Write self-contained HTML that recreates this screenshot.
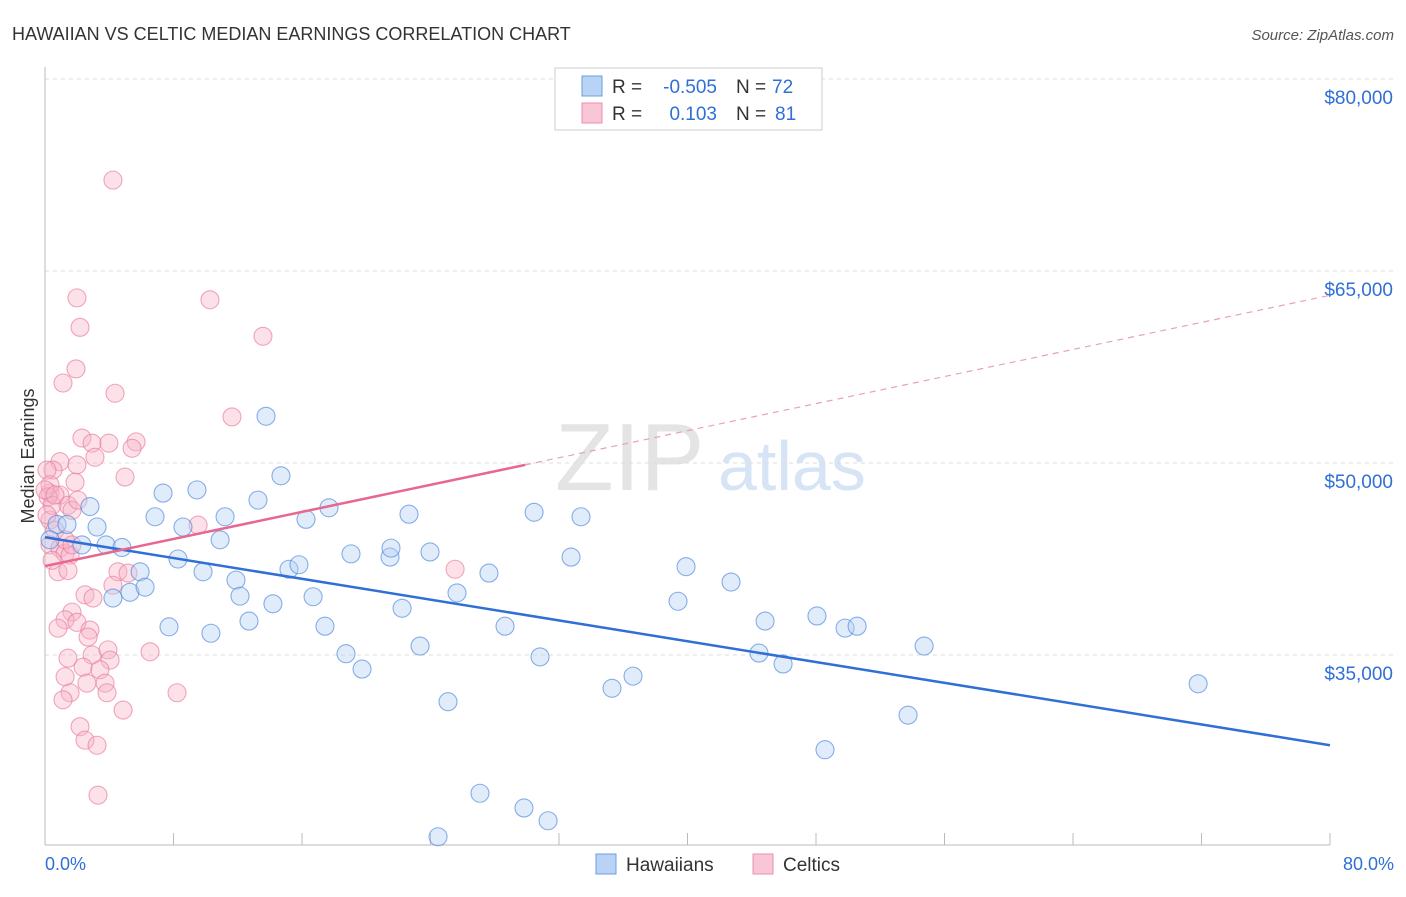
<!DOCTYPE html>
<html><head><meta charset="utf-8"><style>
body{margin:0;background:#fff;font-family:"Liberation Sans",sans-serif}
svg text{font-family:"Liberation Sans",sans-serif}
</style></head><body>
<svg id="c" width="1406" height="892">
<text x="12" y="40" font-size="18" fill="#333">HAWAIIAN VS CELTIC MEDIAN EARNINGS CORRELATION CHART</text>
<text x="1394" y="40" font-size="15" fill="#555" text-anchor="end" font-style="italic">Source: ZipAtlas.com</text>
<text x="34" y="456" font-size="18" fill="#333" text-anchor="middle" transform="rotate(-90 34 456)">Median Earnings</text>
<text x="555" y="490" font-size="96" fill="#e4e4e4" font-family="Liberation Serif">ZIP</text>
<text x="718" y="490" font-size="70" fill="#d6e4f6">atlas</text>
<g id="grid"></g><g id="axes"></g><g id="pts"></g><g id="lines"></g>
<g>
<rect x="555" y="68" width="267" height="62" fill="#fff" stroke="#ccc"/>
<rect x="582" y="76" width="20" height="20" fill="#b9d3f5" stroke="#6d9de0"/>
<rect x="582" y="103" width="20" height="20" fill="#f9c6d5" stroke="#ec8fae"/>
<text x="612" y="93" font-size="19" fill="#333">R =</text>
<text x="717" y="93" font-size="19" fill="#2f6fd6" text-anchor="end">-0.505</text>
<text x="736" y="93" font-size="19" fill="#333">N =</text>
<text x="772" y="93" font-size="19" fill="#2f6fd6">72</text>
<text x="612" y="120" font-size="19" fill="#333">R =</text>
<text x="717" y="120" font-size="19" fill="#2f6fd6" text-anchor="end">0.103</text>
<text x="736" y="120" font-size="19" fill="#333">N =</text>
<text x="775" y="120" font-size="19" fill="#2f6fd6">81</text>
</g>
<g>
<rect x="596" y="854" width="20" height="20" fill="#b9d3f5" stroke="#6d9de0"/>
<text x="626" y="871" font-size="19" fill="#333">Hawaiians</text>
<rect x="753" y="854" width="20" height="20" fill="#f9c6d5" stroke="#ec8fae"/>
<text x="783" y="871" font-size="19" fill="#333">Celtics</text>
</g>
<text x="45" y="870" font-size="18" fill="#2f6fd6">0.0%</text>
<text x="1394" y="870" font-size="18" fill="#2f6fd6" text-anchor="end">80.0%</text>
</svg>
<script>
const yTicks=[80000,65000,50000,35000];
const yTickLabels=["$80,000","$65,000","$50,000","$35,000"];
const blueX=[0.75,1.37,2.80,3.24,2.30,3.80,4.79,4.23,5.29,5.92,6.23,6.85,7.35,7.72,8.28,8.59,9.46,9.84,10.33,10.90,11.21,11.89,12.14,12.70,13.26,13.76,14.19,14.69,15.19,15.81,16.25,16.69,17.43,17.68,18.74,19.05,19.74,21.48,21.54,22.23,22.66,23.35,23.97,25.09,25.65,27.08,27.64,28.64,29.82,30.45,30.82,31.32,32.75,33.37,35.30,36.61,39.41,39.91,42.71,44.45,44.83,45.95,48.06,48.56,49.81,50.56,53.73,54.73,71.79,24.47,0.31];
const blueY=[45200,45200,46600,45000,43600,43600,43400,39450,39900,41500,40300,45800,47650,37200,42500,45000,47900,41500,36700,44000,45800,40850,39600,37650,47100,53650,39000,49000,41700,42050,45600,39550,37250,46500,35100,42900,33900,42650,43350,38650,46000,35700,43050,31350,39850,24200,41400,37250,23050,46150,34850,22050,42650,45800,32400,33350,39200,41900,40700,35150,37650,34300,38050,27600,37100,37250,30300,35700,32750,20800,44000];
const pinkX=[4.23,1.99,10.27,2.18,13.57,1.93,1.12,4.36,11.64,2.30,2.93,3.98,5.67,5.42,3.11,0.93,0.50,1.99,4.98,1.87,0.31,0.93,1.43,1.68,9.53,0.31,4.54,5.17,4.23,2.49,2.99,1.68,1.25,1.99,2.80,0.81,2.68,6.54,1.43,2.93,3.92,4.05,2.37,1.25,3.42,2.61,3.74,1.56,1.12,3.86,8.22,4.86,2.18,2.49,3.24,3.30,25.53,0.12,0.31,0.19,0.44,0.12,0.62,0.31,0.93,1.25,1.56,0.81,1.43,0.44,1.25,1.68,0,0.62,2.05];
const pinkY=[72100,62900,62750,60600,59900,57350,56250,55450,53600,51950,51550,51550,51650,51150,50450,50100,49450,49850,48900,48500,47650,47500,46700,46300,45150,45550,41500,41400,40450,39700,39450,38350,37750,37550,36950,37100,36400,35250,34750,35000,35400,34600,34050,33300,33850,32800,32800,32050,31500,32050,32050,30700,29400,28350,27950,24050,41700,49450,48300,47350,46700,45950,44750,43600,43350,42950,42800,41500,41600,42400,44000,43600,47900,47500,47100];
const blueTrend=[44200,27950];
const pinkTrend=[41950,63100];
const pinkSolidEnd=29.9;
const NS="http://www.w3.org/2000/svg";
const X=p=>45+p*(1285/80);
const Y=v=>79+(80000-v)*0.0128;
function mk(t,a,parent){const e=document.createElementNS(NS,t);for(const k in a)e.setAttribute(k,a[k]);document.getElementById(parent).appendChild(e);return e;}
yTicks.forEach((v,i)=>{
 const l=mk('line',{x1:45,x2:1394,y1:Y(v),y2:Y(v),stroke:'#ddd','stroke-dasharray':'4,4'},'grid');
 
 
 const t=mk('text',{x:1393,y:Y(v)+25,'font-size':19,fill:'#2f6fd6','text-anchor':'end'},'grid');
 t.textContent=yTickLabels[i];
 
 
});
const ax=mk('line',{x1:45,x2:45,y1:67,y2:845,stroke:'#bbb'},'axes');


const bx=mk('line',{x1:45,x2:1330,y1:845,y2:845,stroke:'#bbb'},'axes');


for(let i=1;i<=10;i++){const t=mk('line',{x1:X(i*8),x2:X(i*8),y1:833,y2:845,stroke:'#bbb'},'axes');
 
 }
function dots(xs,ys,fill,stroke,name){xs.forEach((x,i)=>{const c=mk('circle',{cx:X(x),cy:Y(ys[i]),r:9,fill:fill,'fill-opacity':0.4,stroke:stroke,'stroke-width':1.1,'stroke-opacity':0.65},'pts');
 
 });}
dots(pinkX,pinkY,'#f7b4c8','#e8799d','celtic-point');
dots(blueX,blueY,'#b3cff2','#4a86dd','hawaiian-point');
const bl=mk('line',{x1:X(0),y1:Y(blueTrend[0]),x2:X(80),y2:Y(blueTrend[1]),stroke:'#2f6fd6','stroke-width':2.5},'lines');


const pv=p=>pinkTrend[0]+(pinkTrend[1]-pinkTrend[0])*p/80;
const pl=mk('line',{x1:X(0),y1:Y(pinkTrend[0]),x2:X(pinkSolidEnd),y2:Y(pv(pinkSolidEnd)),stroke:'#e8678f','stroke-width':2.5},'lines');


const pd=mk('line',{x1:X(pinkSolidEnd),y1:Y(pv(pinkSolidEnd)),x2:X(80),y2:Y(pinkTrend[1]),stroke:'#e8a0b8','stroke-width':1.2,'stroke-dasharray':'6,5'},'lines');


</script>
</body></html>
